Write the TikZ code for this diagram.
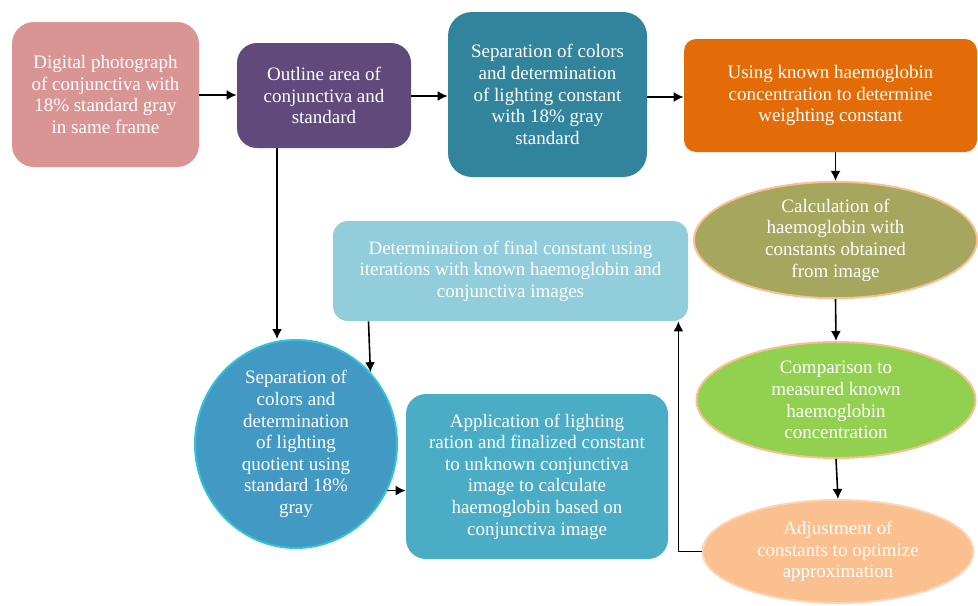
\documentclass[tikz,border=0pt]{standalone}
\usepackage{fontspec}
\setmainfont{Liberation Serif}
\usetikzlibrary{shapes.geometric,arrows.meta}

\definecolor{rosebox}{HTML}{D99594}
\definecolor{plumbox}{HTML}{604A7B}
\definecolor{tealbox}{HTML}{31849B}
\definecolor{orangebox}{HTML}{E36C09}
\definecolor{olivebox}{HTML}{A4A75D}
\definecolor{greenbox}{HTML}{92D050}
\definecolor{peachbox}{HTML}{FAC090}
\definecolor{peachline}{HTML}{FCD5B4}
\definecolor{skybox}{HTML}{92CDDC}
\definecolor{bluebox}{HTML}{4199C4}
\definecolor{cyanline}{HTML}{33C3D6}
\definecolor{aquabox}{HTML}{4BACC6}

\begin{document}
\begin{tikzpicture}[x=0.5pt, y=-0.5pt, >={Latex[length=5pt,width=5pt]},
    every node/.style={text=white, align=center, font=\fontsize{9.5}{10.8}\selectfont},
    box/.style={rectangle, rounded corners=#1, inner sep=0pt},
    box/.default=10pt,
    oval/.style={ellipse, inner sep=0pt, draw=peachbox, line width=1pt},
    link/.style={->, line width=0.8pt}]
  % Frame
  \useasboundingbox (0,0) rectangle (978,605);

  % Top row
  \node[box=11pt, fill=rosebox, minimum width=93.5pt, minimum height=72.5pt] (photo) at (105.5,94.5)
    {Digital photograph\\of conjunctiva with\\18\% standard gray\\in same frame};
  \node[box, fill=plumbox, minimum width=87pt, minimum height=52.5pt] (outline) at (324,95.5)
    {Outline area of\\conjunctiva and\\standard};
  \node[box=12pt, fill=tealbox, minimum width=99.5pt, minimum height=82.5pt] (sepconst) at (547.5,94.5)
    {Separation of colors\\and determination\\of lighting constant\\with 18\% gray\\standard};
  \node[box=6pt, fill=orangebox, minimum width=146.5pt, minimum height=56.5pt] (weight) at (830.5,95.5)
    {Using known haemoglobin\\concentration to determine\\weighting constant};

  % Right column
  \node[oval, fill=olivebox, minimum width=141.5pt, minimum height=58pt] (calc) at (835.5,240)
    {Calculation of\\haemoglobin with\\constants obtained\\from image};
  \node[oval, fill=greenbox, minimum width=139.5pt, minimum height=58pt] (compare) at (836,400)
    {Comparison to\\measured known\\haemoglobin\\concentration};
  \node[oval, fill=peachbox, draw=peachline, minimum width=135.5pt, minimum height=51.5pt] (adjust) at (838,551.5)
    {Adjustment of\\constants to optimize\\approximation};

  % Middle
  \node[box=7.5pt, fill=skybox, minimum width=177.5pt, minimum height=50pt] (final) at (510.5,271)
    {Determination of final constant using\\iterations with known haemoglobin and\\conjunctiva images};
  \node[ellipse, inner sep=0pt, fill=bluebox, draw=cyanline, line width=1pt,
    minimum width=101pt, minimum height=94pt] (sepquot) at (296,444)
    {Separation of\\colors and\\determination\\of lighting\\quotient using\\standard 18\%\\gray};
  \node[box, fill=aquabox, minimum width=131pt, minimum height=82.5pt] (apply) at (537,476.5)
    {Application of lighting\\ration and finalized constant\\to unknown conjunctiva\\image to calculate\\haemoglobin based on\\conjunctiva image};

  % Arrows
  \draw[link] (photo.east |- 0,95) -- (outline.west |- 0,95);
  \draw[link] (outline.east |- 0,96) -- (sepconst.west |- 0,96);
  \draw[link] (sepconst.east |- 0,97) -- (weight.west |- 0,97);
  \draw[link] (calc.north |- weight.south) -- (calc.north);
  \draw[link] (calc.south) -- (compare.north);
  \draw[link] (compare.south) -- (adjust.north);
  \draw[link] (adjust.west) -| ([xshift=-5pt]final.south east);
  \draw[link] ([xshift=-23.5pt]outline.south) -- ([xshift=-23.5pt]outline.south |- sepquot.north);
  \draw[link] ([xshift=-71pt]final.south) -- (sepquot.44);
  \draw[link] (sepquot.-27) -- (sepquot.-27 -| apply.west);
\end{tikzpicture}
\end{document}
